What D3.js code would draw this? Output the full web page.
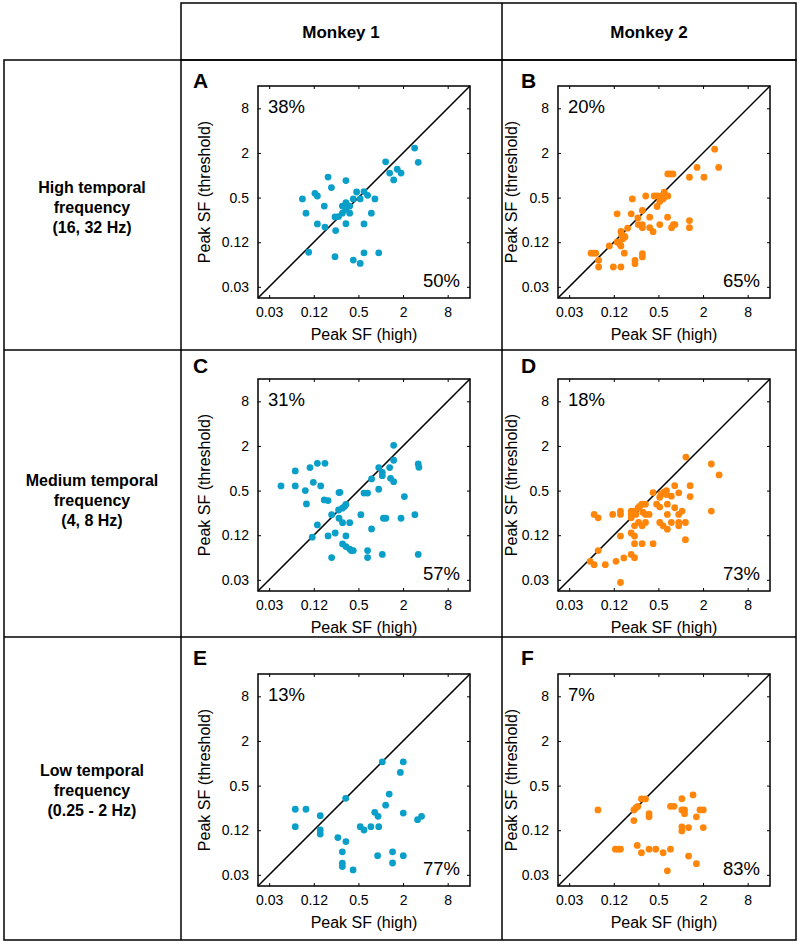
<!DOCTYPE html>
<html>
<head>
<meta charset="utf-8">
<script src="https://cdn.jsdelivr.net/npm/d3@7"></script>
<style>
  body { margin: 0; background: #fff; }
  text { font-family: "Liberation Sans", Arial, sans-serif; }
</style>
</head>
<body>
<div id="chart"></div>
<script>
// Peak SF scatter grid — values are log2(c/deg)
const tickOct = [-5, -3, -1, 1, 3];
const tickLabels = ["0.03", "0.12", "0.5", "2", "8"];
const monkeys = ["Monkey 1", "Monkey 2"];
const rowLabels = [
  ["High temporal", "frequency", "(16, 32 Hz)"],
  ["Medium temporal", "frequency", "(4, 8 Hz)"],
  ["Low temporal", "frequency", "(0.25 - 2 Hz)"]
];
const letters = ["A", "B", "C", "D", "E", "F"];
const pctUpper = ["38%", "20%", "31%", "18%", "13%", "7%"];
const pctLower = ["50%", "65%", "57%", "73%", "77%", "83%"];

// [peak SF high, peak SF threshold]
const panelA = [[-3.51,-1.06],[-3.35,-1.70],[-3.23,-3.45],[-2.95,-0.81],[-2.84,-0.93],[-2.84,-2.18],
  [-2.53,-1.38],[-2.50,-2.32],[-2.36,-0.08],[-2.21,-0.55],[-2.05,-1.87],[-2.02,-2.48],[-2.05,-3.65],
  [-1.89,-1.85],[-1.72,-1.38],[-1.72,-1.70],[-1.56,-0.24],[-1.56,-1.23],[-1.56,-1.53],[-1.56,-2.17],
  [-1.39,-1.38],[-1.39,-1.70],[-1.23,-3.80],[-1.23,-1.06],[-1.08,-0.75],[-0.92,-1.06],[-0.92,-3.95],
  [-0.75,-0.73],[-0.75,-2.18],[-0.75,-3.48],[-0.59,-0.90],[-0.42,-1.70],[-0.26,-1.06],[-0.09,-3.48],
  [0.22,0.60],[0.40,0.10],[0.58,-0.21],[0.74,0.27],[0.91,0.10],[1.52,1.22],[1.68,0.58]];
const panelB = [[-4.02,-3.49],[-3.92,-3.49],[-3.81,-3.49],[-3.68,-3.81],[-3.68,-4.11],[-3.20,-3.17],
  [-3.02,-4.11],[-2.85,-1.73],[-2.85,-2.99],[-2.74,-3.07],[-2.68,-2.52],[-2.68,-3.17],[-2.65,-2.67],
  [-2.59,-2.85],[-2.53,-2.73],[-2.53,-3.49],[-2.68,-4.11],[-2.50,-2.77],[-2.38,-2.37],[-2.22,-1.73],
  [-2.17,-1.06],[-2.05,-3.81],[-2.05,-3.96],[-1.92,-1.91],[-1.90,-2.21],[-1.72,-1.58],[-1.72,-2.21],
  [-1.72,-3.51],[-1.72,-3.66],[-1.72,-2.35],[-1.57,-0.93],[-1.39,-1.88],[-1.39,-2.35],[-1.24,-2.53],
  [-1.19,-0.93],[-1.06,-0.93],[-1.06,-1.40],[-0.94,-2.21],[-0.94,-1.18],[-0.86,-0.93],[-0.79,-1.06],
  [-0.74,-0.76],[-0.68,-0.93],[-0.58,-0.93],[-0.58,0.06],[-0.45,0.06],[-0.35,0.06],[-0.59,-1.88],
  [-0.41,-2.35],[-0.33,-2.21],[-0.26,-2.21],[0.39,-0.09],[0.39,-2.03],[0.39,-2.35],[0.73,0.35],
  [1.04,-0.09],[1.52,1.17],[1.70,0.35]];
const panelC = [[-4.47,-0.79],[-3.83,-0.12],[-3.83,-0.79],[-3.38,-1.00],[-3.33,-1.60],[-3.17,0.03],
  [-3.02,-0.63],[-3.07,-3.09],[-2.84,0.22],[-2.84,-2.54],[-2.69,-0.79],[-2.50,0.22],[-2.53,-1.42],
  [-2.36,-1.45],[-2.36,-3.03],[-2.20,-2.08],[-2.20,-4.00],[-2.04,-2.90],[-1.89,-1.87],[-1.87,-1.09],
  [-1.87,-2.24],[-1.83,-1.08],[-1.72,-1.79],[-1.71,-3.39],[-1.71,-2.44],[-1.63,-1.72],[-1.56,-1.62],
  [-1.56,-3.03],[-1.56,-3.51],[-1.39,-3.62],[-1.39,-2.44],[-1.32,-3.69],[-1.23,-3.69],[-0.89,-2.08],
  [-0.75,-1.11],[-0.59,-1.11],[-0.59,-3.69],[-0.59,-4.00],[-0.41,-2.72],[-0.41,-0.48],[-0.09,-0.94],
  [-0.09,0.03],[0.07,-0.18],[0.07,-0.33],[0.07,-3.86],[0.12,-2.24],[0.23,-2.24],[0.40,0.03],
  [0.44,-0.45],[0.58,-0.60],[0.58,0.36],[0.58,1.03],[0.91,-2.24],[1.06,-1.27],[1.53,-2.08],
  [1.68,0.19],[1.71,0.04],[1.68,-3.86]];
const panelD = [[-4.06,-4.17],[-3.88,-4.32],[-3.70,-3.69],[-3.88,-2.07],[-3.70,-2.22],[-3.38,-4.32],
  [-3.05,-2.07],[-2.90,-4.17],[-2.70,-1.92],[-2.70,-2.07],[-2.70,-3.04],[-2.70,-5.12],[-2.55,-4.02],
  [-2.22,-1.92],[-2.22,-2.07],[-2.22,-2.22],[-2.22,-2.90],[-2.22,-3.86],[-2.13,-1.92],[-2.07,-3.04],
  [-2.07,-4.01],[-2.07,-3.38],[-2.07,-2.58],[-2.01,-2.07],[-1.92,-1.79],[-1.89,-2.43],[-1.85,-1.71],
  [-1.74,-1.61],[-1.73,-3.38],[-1.73,-2.58],[-1.70,-1.97],[-1.58,-1.61],[-1.58,-2.43],[-1.58,-2.07],
  [-1.42,-2.07],[-1.24,-1.09],[-1.24,-3.38],[-1.08,-1.61],[-0.94,-1.30],[-0.94,-1.74],[-0.94,-2.43],
  [-0.87,-1.15],[-0.79,-2.58],[-0.75,-1.07],[-0.64,-1.00],[-0.64,-1.18],[-0.60,-1.61],[-0.60,-2.07],
  [-0.60,-2.73],[-0.42,-1.25],[-0.42,-2.43],[-0.27,-0.78],[-0.27,-1.77],[-0.09,-1.10],[-0.09,-2.43],
  [-0.09,-2.58],[-0.09,-2.07],[0.06,-1.92],[0.21,-2.43],[0.21,-3.20],[0.23,0.50],[0.42,-0.78],
  [0.42,-1.27],[1.37,0.19],[1.37,-1.92],[1.72,-0.30]];
const panelE = [[-3.83,-2.06],[-3.83,-2.84],[-3.35,-2.06],[-2.71,-2.35],[-2.71,-2.99],[-2.71,-3.17],
  [-1.92,-3.33],[-1.72,-3.97],[-1.72,-4.48],[-1.72,-4.63],[-1.57,-1.57],[-1.56,-3.51],[-1.24,-4.78],
  [-0.92,-2.84],[-0.75,-2.99],[-0.44,-2.84],[-0.27,-2.20],[-0.12,-2.38],[-0.09,-2.84],[-0.14,-4.14],
  [0.07,0.06],[0.22,-1.88],[0.38,-1.38],[0.53,-3.97],[0.53,-4.47],[0.88,-0.41],[1.01,0.06],
  [1.01,-2.23],[1.01,-4.14],[1.65,-2.53],[1.83,-2.38]];
const panelF = [[-3.71,-2.09],[-2.93,-3.85],[-2.81,-3.85],[-2.70,-3.85],[-2.10,-2.09],[-2.10,-2.57],
  [-2.00,-1.99],[-1.92,-1.93],[-1.95,-3.68],[-1.76,-4.01],[-1.76,-1.60],[-1.58,-1.60],[-1.42,-2.26],
  [-1.42,-2.40],[-1.42,-3.85],[-1.12,-3.85],[-0.79,-4.01],[-0.60,-4.82],[-0.46,-1.93],[-0.46,-3.85],
  [-0.30,-1.93],[0.05,-1.59],[0.05,-2.09],[0.05,-2.85],[0.05,-3.03],[0.17,-2.09],[0.17,-2.26],
  [0.35,-2.88],[0.35,-4.16],[0.55,-1.42],[0.70,-2.40],[0.70,-4.50],[0.86,-2.09],[1.01,-2.09],
  [1.01,-2.88]];

const panels = [panelA, panelB, panelC, panelD, panelE, panelF];
const colors = ["#0a9fc8", "#ff860a"];

const W = 800, H = 946;
const size = 212;
const colLeft = [258, 558];
const rowTop = [86, 379, 674];
const letterX = [193, 521];
const letterY = [88, 373, 665];
const rowLabelY = [187, 480, 770];
const yLabelOffset = [-48, -41];

const svg = d3.select("#chart").append("svg")
  .attr("width", W).attr("height", H);
svg.append("rect").attr("width", W).attr("height", H).attr("fill", "#fff");

// Table grid
const grid = svg.append("g")
  .attr("fill", "none").attr("stroke", "#000").attr("stroke-width", 1.5);
grid.append("rect").attr("x", 181).attr("y", 3).attr("width", 615).attr("height", 57);
grid.append("rect").attr("x", 4).attr("y", 60).attr("width", 792).attr("height", 880);
[[181, 60, 181, 940], [502, 3, 502, 940], [4, 350, 796, 350], [4, 637, 796, 637]]
  .forEach(([x1, y1, x2, y2]) => grid.append("line")
    .attr("x1", x1).attr("y1", y1).attr("x2", x2).attr("y2", y2));

// Header
monkeys.forEach((m, i) => {
  svg.append("text")
    .attr("x", i === 0 ? 341 : 649).attr("y", 38)
    .attr("text-anchor", "middle")
    .attr("font-size", "17px").attr("font-weight", "bold")
    .text(m);
});

// Row labels
rowLabels.forEach((lines, r) => {
  const t = svg.append("text")
    .attr("text-anchor", "middle")
    .attr("font-size", "16px").attr("font-weight", "bold");
  lines.forEach((s, k) => {
    t.append("tspan").attr("x", 92).attr("y", rowLabelY[r] + 6 + k * 20).text(s);
  });
});

const x = d3.scaleLinear().domain([-5.5, 4]).range([0, size]);
const y = d3.scaleLinear().domain([-5.5, 4]).range([size, 0]);
const fmt = d => tickLabels[tickOct.indexOf(d)];

panels.forEach((data, i) => {
  const col = i % 2, row = Math.floor(i / 2);
  const g = svg.append("g")
    .attr("transform", `translate(${colLeft[col]},${rowTop[row]})`);

  // Axes: inward ticks on all four sides
  const axes = [
    [d3.axisBottom(x), `translate(0,${size})`, true],
    [d3.axisLeft(y), null, true],
    [d3.axisTop(x), null, false],
    [d3.axisRight(y), `translate(${size},0)`, false]
  ];
  axes.forEach(([ax, tr, labels]) => {
    const a = g.append("g")
      .call(ax.tickValues(tickOct).tickSizeInner(-3).tickSizeOuter(0)
        .tickPadding(labels ? 9 : 0).tickFormat(labels ? fmt : ""));
    if (tr) a.attr("transform", tr);
    a.select(".domain").remove();
    a.selectAll(".tick line").attr("stroke", "#000");
    a.selectAll(".tick text")
      .attr("fill", "#000")
      .attr("font-size", "14px")
      .attr("font-family", "Liberation Sans, Arial, sans-serif");
  });

  // Unity line
  g.append("line")
    .attr("x1", x(-5.5)).attr("y1", y(-5.5))
    .attr("x2", x(4)).attr("y2", y(4))
    .attr("stroke", "#000").attr("stroke-width", 1.5);

  g.selectAll("circle")
    .data(data)
    .join("circle")
    .attr("cx", d => x(d[0]))
    .attr("cy", d => y(d[1]))
    .attr("r", 3.4)
    .attr("fill", colors[col]);

  g.append("rect")
    .attr("width", size).attr("height", size)
    .attr("fill", "none").attr("stroke", "#000").attr("stroke-width", 1.5);

  g.append("text")
    .attr("x", 10).attr("y", 27)
    .attr("font-size", "18.5px")
    .text(pctUpper[i]);
  g.append("text")
    .attr("x", size - 10).attr("y", size - 11)
    .attr("text-anchor", "end")
    .attr("font-size", "18.5px")
    .text(pctLower[i]);

  // Axis labels
  g.append("text")
    .attr("x", size / 2).attr("y", size + 42)
    .attr("text-anchor", "middle")
    .attr("font-size", "16px")
    .text("Peak SF (high)");
  g.append("text")
    .attr("transform", "rotate(-90)")
    .attr("x", -size / 2).attr("y", yLabelOffset[col])
    .attr("text-anchor", "middle")
    .attr("font-size", "16px")
    .text("Peak SF (threshold)");

  svg.append("text")
    .attr("x", letterX[col]).attr("y", letterY[row])
    .attr("font-size", "21px").attr("font-weight", "bold")
    .text(letters[i]);
});
</script>
</body>
</html>
